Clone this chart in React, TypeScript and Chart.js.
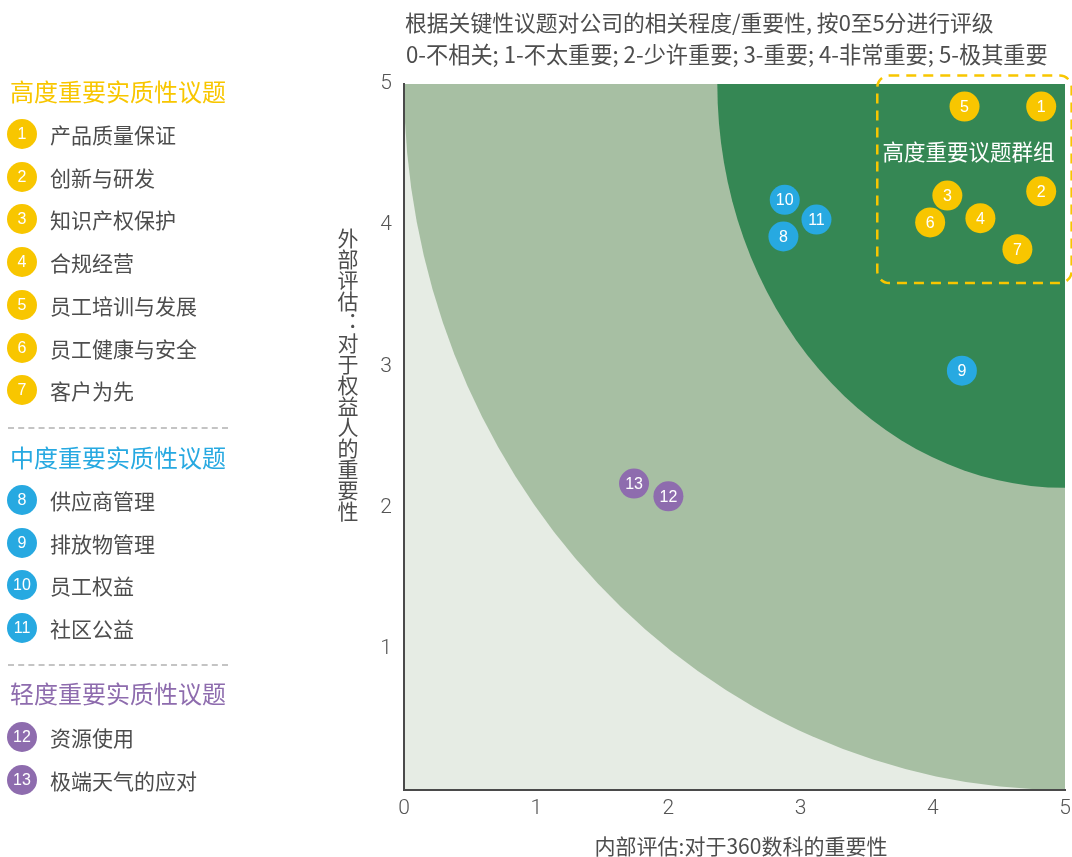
import React, { useEffect, useRef } from "react";
import { Chart, registerables } from "chart.js";

Chart.register(...registerables);

// ---------- data ----------
const issueIds = [1, 2, 3, 4, 5, 6, 7, 8, 9, 10, 11, 12, 13];
const issueNames = [
  "产品质量保证",
  "创新与研发",
  "知识产权保护",
  "合规经营",
  "员工培训与发展",
  "员工健康与安全",
  "客户为先",
  "供应商管理",
  "排放物管理",
  "员工权益",
  "社区公益",
  "资源使用",
  "极端天气的应对",
];
const issueLevel = [0, 0, 0, 0, 0, 0, 0, 1, 1, 1, 1, 2, 2];
const internalScores = [4.82, 4.82, 4.11, 4.36, 4.24, 3.98, 4.64, 2.87, 4.22, 2.88, 3.12, 2.0, 1.74];
const externalScores = [4.84, 4.24, 4.21, 4.05, 4.84, 4.02, 3.83, 3.92, 2.97, 4.18, 4.04, 2.08, 2.17];

const levelNames = ["高度重要实质性议题", "中度重要实质性议题", "轻度重要实质性议题"];
const levelColors = ["#f8c600", "#27a9e1", "#8e6cae"];

const tickValues = [0, 1, 2, 3, 4, 5];

// zone radii (data units, centred on (5,5))
const outerZoneRadius = [5.0, 5.0];
const innerZoneRadius = [2.63, 2.86];
// high-importance cluster box (data units)
const clusterBox = { x0: 3.58, x1: 5.05, y0: 3.59, y1: 5.06 };
const clusterLabel = "高度重要议题群组";
const clusterLabelPos = [4.27, 4.52];

const titleLine1 = "根据关键性议题对公司的相关程度/重要性, 按0至5分进行评级";
const titleLine2 = "0-不相关; 1-不太重要; 2-少许重要; 3-重要; 4-非常重要; 5-极其重要";
const xTitle = "内部评估:对于360数科的重要性";
const yTitle = "外部评估：对于权益人的重要性";

const CJK = "'Noto Sans CJK SC', 'Noto Sans', sans-serif";
const NUM = "'Liberation Sans', Arial, sans-serif";
const TEXT_COLOR = "#4d4d4d";

export default function App() {
  const canvasRef = useRef<HTMLCanvasElement | null>(null);

  useEffect(() => {
    const canvas = canvasRef.current;
    if (!canvas) return;

    const bgPlugin = {
      id: "zones",
      beforeDraw(chart: any) {
        const { ctx, chartArea } = chart;
        const xs = chart.scales.x;
        const ys = chart.scales.y;
        const cx = xs.getPixelForValue(5);
        const cy = ys.getPixelForValue(5);
        const ux = xs.getPixelForValue(1) - xs.getPixelForValue(0);
        const uy = ys.getPixelForValue(0) - ys.getPixelForValue(1);
        ctx.save();
        ctx.beginPath();
        ctx.rect(chartArea.left, chartArea.top, chartArea.right - chartArea.left, chartArea.bottom - chartArea.top);
        ctx.clip();
        ctx.fillStyle = "#e6ece4";
        ctx.fillRect(chartArea.left, chartArea.top, chartArea.right - chartArea.left, chartArea.bottom - chartArea.top);
        ctx.fillStyle = "#a7bfa3";
        ctx.beginPath();
        ctx.ellipse(cx, cy, outerZoneRadius[0] * ux, outerZoneRadius[1] * uy, 0, 0, Math.PI * 2);
        ctx.fill();
        ctx.fillStyle = "#358754";
        ctx.beginPath();
        ctx.ellipse(cx, cy, innerZoneRadius[0] * ux, innerZoneRadius[1] * uy, 0, 0, Math.PI * 2);
        ctx.fill();
        ctx.restore();
      },
      afterDatasetsDraw(chart: any) {
        const { ctx } = chart;
        const xs = chart.scales.x;
        const ys = chart.scales.y;
        // cluster box
        const bx0 = xs.getPixelForValue(clusterBox.x0);
        const bx1 = xs.getPixelForValue(clusterBox.x1);
        const by0 = ys.getPixelForValue(clusterBox.y1);
        const by1 = ys.getPixelForValue(clusterBox.y0);
        ctx.save();
        ctx.strokeStyle = "#f8c600";
        ctx.lineWidth = 2.5;
        ctx.setLineDash([10, 7]);
        ctx.beginPath();
        ctx.roundRect(bx0, by0, bx1 - bx0, by1 - by0, 12);
        ctx.stroke();
        ctx.setLineDash([]);
        ctx.fillStyle = "#ffffff";
        ctx.font = `21.5px ${CJK}`;
        ctx.textAlign = "center";
        ctx.textBaseline = "middle";
        ctx.fillText(clusterLabel, xs.getPixelForValue(clusterLabelPos[0]), ys.getPixelForValue(clusterLabelPos[1]));
        // point numbers
        const meta = chart.getDatasetMeta(0);
        ctx.font = `16px ${NUM}`;
        meta.data.forEach((pt: any, i: number) => {
          ctx.fillText(String(issueIds[i]), pt.x, pt.y + 1);
        });
        ctx.restore();
      },
    };

    const tickFont = { family: "Roboto, 'Liberation Sans', sans-serif", size: 21, weight: 300 as any };

    const chart = new Chart(canvas, {
      type: "scatter",
      data: {
        datasets: [
          {
            data: internalScores.map((x, i) => ({ x, y: externalScores[i] })),
            backgroundColor: issueLevel.map((l) => levelColors[l]),
            borderWidth: 0,
            pointRadius: 15,
            pointHoverRadius: 15,
          },
        ],
      },
      options: {
        responsive: false,
        animation: false,
        devicePixelRatio: 1,
        layout: { autoPadding: false, padding: { left: 380, top: 84, right: 7, bottom: 37 } },
        plugins: { legend: { display: false }, tooltip: { enabled: false } },
        scales: {
          x: {
            type: "linear",
            min: 0,
            max: 5,
            afterBuildTicks: (s: any) => {
              s.ticks = tickValues.map((v) => ({ value: v }));
            },
            afterFit: (s: any) => {
              s.height = 30;
              s.paddingLeft = 0;
              s.paddingRight = 0;
            },
            ticks: { padding: 6, color: "#555", font: tickFont },
            grid: { display: false, drawTicks: false },
            border: { display: true, color: "#4a4a4a", width: 2 },
          },
          y: {
            type: "linear",
            min: 0,
            max: 5,
            afterBuildTicks: (s: any) => {
              s.ticks = tickValues.map((v) => ({ value: v }));
            },
            afterFit: (s: any) => {
              s.width = 24;
              s.paddingTop = 0;
              s.paddingBottom = 0;
            },
            ticks: {
              padding: 12,
              color: "#555",
              font: tickFont,
              callback: (v: any) => (v === 0 ? "" : String(v)),
            },
            grid: { display: false, drawTicks: false },
            border: { display: true, color: "#4a4a4a", width: 2 },
          },
        },
      },
      plugins: [bgPlugin],
    });

    return () => chart.destroy();
  }, []);

  const legendRows: React.ReactNode[] = [];
  const headerY = [91, 457, 693];
  const sepY = [428, 665];
  const itemStartY = [134, 500, 737];
  const itemStep = 42.7;
  levelNames.forEach((name, l) => {
    legendRows.push(
      <div
        key={"h" + l}
        style={{
          position: "absolute",
          left: 10,
          top: headerY[l] - 17,
          height: 34,
          lineHeight: "34px",
          fontSize: 24,
          color: levelColors[l],
          whiteSpace: "nowrap",
        }}
      >
        {name}
      </div>
    );
    const ids = issueIds.filter((_, i) => issueLevel[i] === l);
    ids.forEach((id, k) => {
      const cy = itemStartY[l] + k * itemStep;
      legendRows.push(
        <div key={"c" + id} style={{ position: "absolute", left: 7, top: cy - 15, width: 30, height: 30, borderRadius: 15, background: levelColors[l], color: "#fff", fontFamily: NUM, fontSize: 16, lineHeight: "30px", textAlign: "center" }}>
          {id}
        </div>
      );
      legendRows.push(
        <div key={"t" + id} style={{ position: "absolute", left: 50, top: cy - 15, height: 30, lineHeight: "30px", fontSize: 21, color: TEXT_COLOR, whiteSpace: "nowrap" }}>
          {issueNames[id - 1]}
        </div>
      );
    });
  });
  sepY.forEach((y, i) => {
    legendRows.push(
      <div key={"s" + i} style={{ position: "absolute", left: 8, top: y - 1, width: 220, height: 0, borderTop: "2px dashed #c4c4c4" }} />
    );
  });

  return (
    <div style={{ position: "absolute", left: 0, top: 0, width: 1072, height: 857, background: "#fff", fontFamily: CJK, overflow: "hidden" }}>
      <canvas ref={canvasRef} width={1072} height={857} style={{ position: "absolute", left: 0, top: 0, width: 1072, height: 857 }} />
      <div style={{ position: "absolute", left: 405, top: 6, fontSize: 21.8, lineHeight: "32px", color: TEXT_COLOR, whiteSpace: "nowrap" }}>{titleLine1}</div>
      <div style={{ position: "absolute", left: 406, top: 37, fontSize: 22.2, lineHeight: "32px", color: TEXT_COLOR, whiteSpace: "nowrap" }}>{titleLine2}</div>
      <div style={{ position: "absolute", left: 592, top: 830, width: 298, textAlign: "center", fontSize: 21, lineHeight: "30px", color: TEXT_COLOR, whiteSpace: "nowrap" }}>{xTitle}</div>
      <div style={{ position: "absolute", left: 333, top: 228, writingMode: "vertical-rl", fontSize: 21, lineHeight: "30px", color: TEXT_COLOR, whiteSpace: "nowrap" }}>{yTitle}</div>
      {legendRows}
    </div>
  );
}
